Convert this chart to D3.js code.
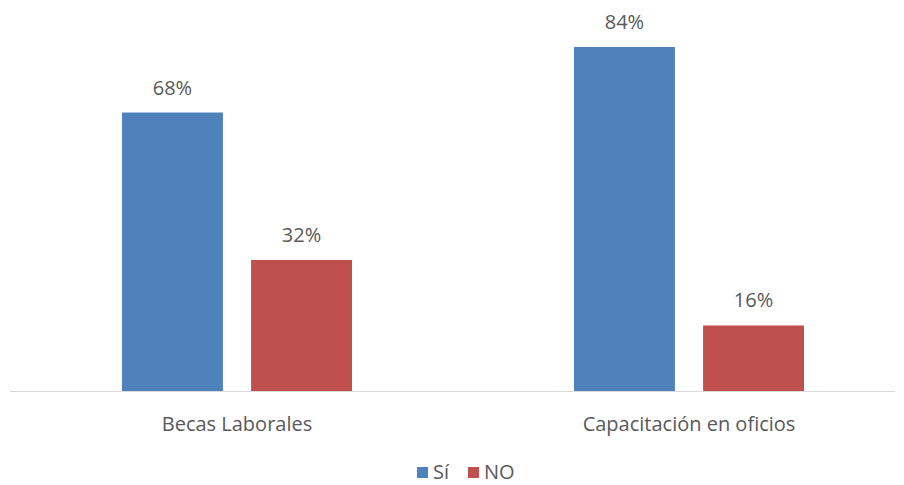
<!DOCTYPE html>
<html>
<head>
<meta charset="utf-8">
<script src="https://cdn.jsdelivr.net/npm/d3@7"></script>
<style>
  html, body { margin: 0; padding: 0; background: #fff; }
  text { font-family: "Open Sans", "Liberation Sans", sans-serif; fill: #595959; }
</style>
</head>
<body>
<svg id="chart" width="904" height="485"></svg>
<script>
const categories = ["Becas Laborales", "Capacitación en oficios"];
const seriesNames = ["Sí", "NO"];
const siValues = [68, 84];
const noValues = [32, 16];
const seriesColors = ["#4F81BD", "#C0504D"];

const svg = d3.select("#chart");
const baseY = 391;
const fontSize = 20;

const x0 = d3.scaleBand().domain(categories).range([11, 915]);
const x1 = d3.scaleBand().domain(seriesNames)
  .range([0, 230]).paddingInner(0.218);
const y = d3.scaleLinear().domain([0, 84]).range([baseY, 47]);

const rows = categories.map((c, i) => ({
  cat: c,
  vals: [
    { s: seriesNames[0], v: siValues[i], color: seriesColors[0] },
    { s: seriesNames[1], v: noValues[i], color: seriesColors[1] }
  ]
}));

const groups = svg.selectAll("g.cat").data(rows).join("g")
  .attr("class", "cat")
  .attr("transform", d => `translate(${x0(d.cat) + (x0.bandwidth() - 230) / 2},0)`);

groups.selectAll("rect").data(d => d.vals).join("rect")
  .attr("x", d => x1(d.s))
  .attr("y", d => y(d.v))
  .attr("width", x1.bandwidth())
  .attr("height", d => baseY - y(d.v))
  .attr("fill", d => d.color);

groups.selectAll("text.val").data(d => d.vals).join("text")
  .attr("class", "val")
  .attr("x", d => x1(d.s) + x1.bandwidth() / 2)
  .attr("y", d => y(d.v) - 18)
  .attr("text-anchor", "middle")
  .attr("font-size", fontSize)
  .text(d => d.v + "%");

// baseline axis
svg.append("line")
  .attr("x1", 10).attr("x2", 895)
  .attr("y1", baseY + 0.5).attr("y2", baseY + 0.5)
  .attr("stroke", "#d9d9d9").attr("stroke-width", 1);

const xAxis = d3.axisBottom(x0).tickSize(0).tickPadding(0);
const axisG = svg.append("g").attr("transform", `translate(0,${baseY})`).call(xAxis);
axisG.select(".domain").remove();
axisG.selectAll("text")
  .attr("font-size", fontSize)
  .attr("y", 40)
  .attr("dy", 0)
  .style("font-family", "\"Open Sans\", \"Liberation Sans\", sans-serif")
  .attr("fill", "#595959");

// legend
const legend = svg.append("g");
const legendItems = [
  { name: seriesNames[0], color: seriesColors[0], x: 417 },
  { name: seriesNames[1], color: seriesColors[1], x: 468 }
];
legendItems.forEach(it => {
  legend.append("rect").attr("x", it.x).attr("y", 467).attr("width", 11).attr("height", 11).attr("fill", it.color);
  legend.append("text").attr("x", it.x + 16).attr("y", 479).attr("font-size", fontSize).text(it.name);
});
</script>
</body>
</html>
